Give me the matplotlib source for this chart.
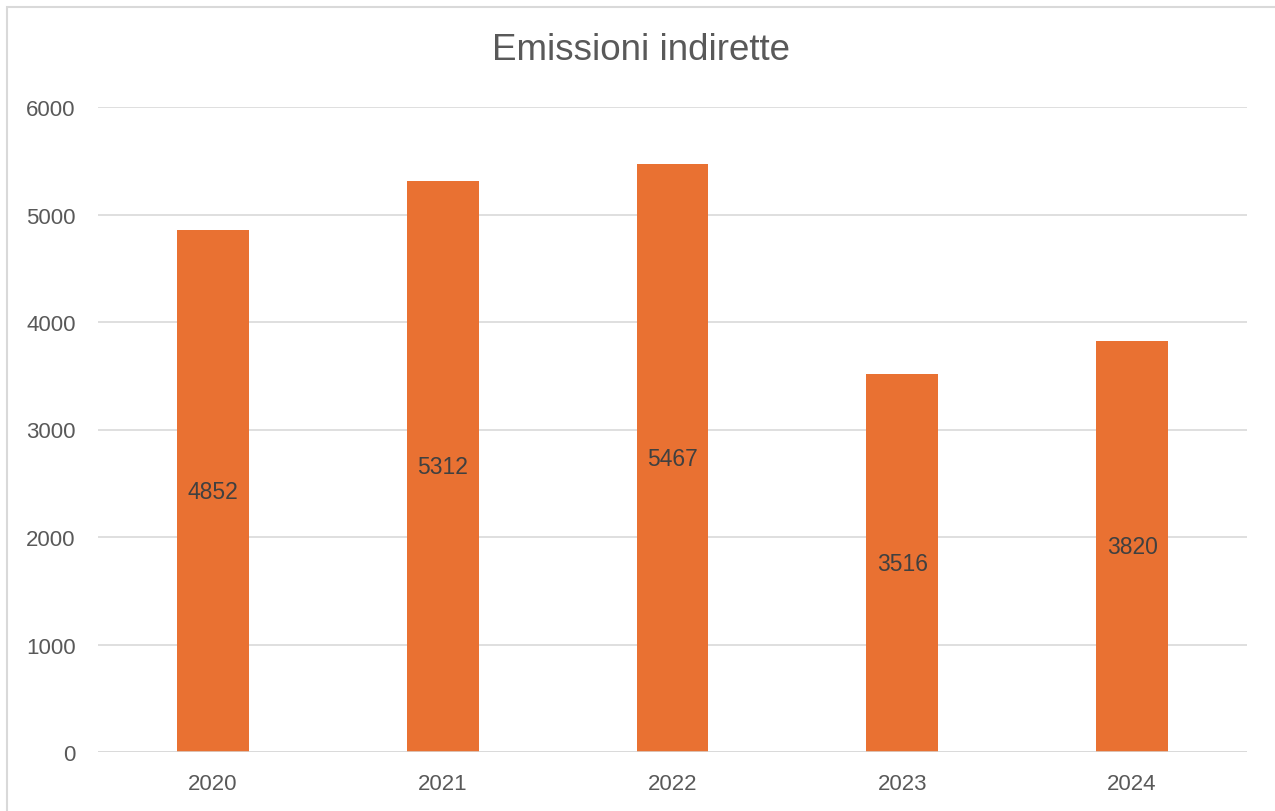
import matplotlib
matplotlib.use("Agg")
import matplotlib.pyplot as plt
from matplotlib.patches import Rectangle

years = ["2020", "2021", "2022", "2023", "2024"]
values = [4852, 5312, 5467, 3516, 3820]
yticks = [0, 1000, 2000, 3000, 4000, 5000, 6000]
title = "Emissioni indirette"

plt.rcParams['font.family'] = ['Liberation Sans', 'DejaVu Sans']
text_color = "#595959"
bar_color = "#E97132"
grid_color = "#D9D9D9"

fig = plt.figure(figsize=(12.75, 8.12), dpi=100)
fig.patch.set_facecolor("white")
fig.patches.append(Rectangle((7/1275, -0.1), 1.2, (1 - 8/812) + 0.1, transform=fig.transFigure,
                             fill=False, edgecolor=grid_color, linewidth=1.5))

ax = fig.add_axes([98/1275, 1 - 753/812, (1247 - 98)/1275, (753 - 108)/812])
x = list(range(len(years)))
bars = ax.bar(x, values, width=0.313, color=bar_color, zorder=3)
ax.set_xlim(-0.5, len(years) - 0.5)
ax.set_ylim(0, 6000)
ax.set_yticks(yticks)
ax.set_yticklabels([str(t) for t in yticks])
ax.set_xticks(x)
ax.set_xticklabels(years)
for s in ax.spines.values():
    s.set_visible(False)
ax.tick_params(axis='both', length=0, labelsize=16, labelcolor=text_color)
ax.tick_params(axis='y', pad=16)
ax.tick_params(axis='x', pad=15)
ax.grid(axis='y', color=grid_color, linewidth=1.2, zorder=0)
ax.axhline(0, color=grid_color, linewidth=1.8, zorder=4)
for xi, v in zip(x, values):
    ax.text(xi, v / 2, str(v), ha='center', va='center', fontsize=16.5, color="#404040", zorder=5)

fig.text(641 / 1275, 1 - 51/812, title, ha='center', va='center', fontsize=26.5, color=text_color)

fig.savefig("out.png", dpi=100, facecolor="white")
